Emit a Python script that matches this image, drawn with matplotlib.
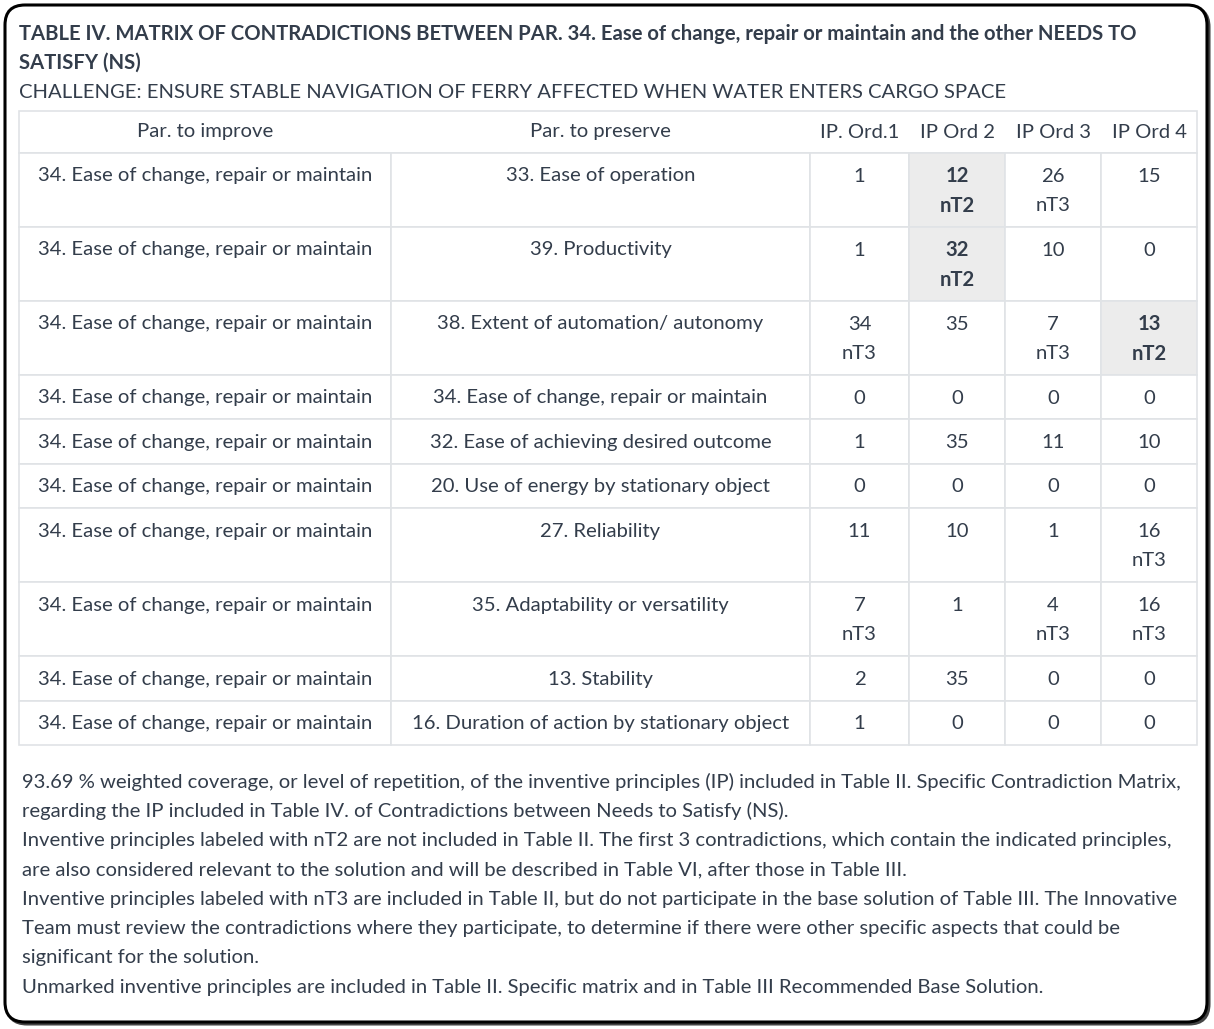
import matplotlib as mpl
mpl.use('Agg')
import matplotlib.pyplot as plt
from matplotlib.patches import FancyBboxPatch, Rectangle

# ========================================================================================

title_lines = [
    "TABLE IV. MATRIX OF CONTRADICTIONS BETWEEN PAR. 34. Ease of change, repair or maintain and the other NEEDS TO",
    "SATISFY (NS)",
]
challenge = "CHALLENGE: ENSURE STABLE NAVIGATION OF FERRY AFFECTED WHEN WATER ENTERS CARGO SPACE"

headers = ["Par. to improve", "Par. to preserve", "IP. Ord.1", "IP Ord 2", "IP Ord 3", "IP Ord 4"]

par_improve = ["34. Ease of change, repair or maintain"] * 10
par_preserve = [
    "33. Ease of operation",
    "39. Productivity",
    "38. Extent of automation/ autonomy",
    "34. Ease of change, repair or maintain",
    "32. Ease of achieving desired outcome",
    "20. Use of energy by stationary object",
    "27. Reliability",
    "35. Adaptability or versatility",
    "13. Stability",
    "16. Duration of action by stationary object",
]
ip_values = [
    [1, 12, 26, 15],
    [1, 32, 10, 0],
    [34, 35, 7, 13],
    [0, 0, 0, 0],
    [1, 35, 11, 10],
    [0, 0, 0, 0],
    [11, 10, 1, 16],
    [7, 1, 4, 16],
    [2, 35, 0, 0],
    [1, 0, 0, 0],
]
ip_marks = [
    ["", "nT2", "nT3", ""],
    ["", "nT2", "", ""],
    ["nT3", "", "nT3", "nT2"],
    ["", "", "", ""],
    ["", "", "", ""],
    ["", "", "", ""],
    ["", "", "", "nT3"],
    ["nT3", "", "nT3", "nT3"],
    ["", "", "", ""],
    ["", "", "", ""],
]

notes = [
    "93.69 % weighted coverage, or level of repetition, of the inventive principles (IP) included in Table II. Specific Contradiction Matrix,",
    "regarding the IP included in Table IV. of Contradictions between Needs to Satisfy (NS).",
    "Inventive principles labeled with nT2 are not included in Table II. The first 3 contradictions, which contain the indicated principles,",
    "are also considered relevant to the solution and will be described in Table VI, after those in Table III.",
    "Inventive principles labeled with nT3 are included in Table II, but do not participate in the base solution of Table III. The Innovative",
    "Team must review the contradictions where they participate, to determine if there were other specific aspects that could be",
    "significant for the solution.",
    "Unmarked inventive principles are included in Table II. Specific matrix and in Table III Recommended Base Solution.",
]

# ========================================================================================

txt_color = "#333d4b"
grid_color = "#e0e3e6"
hl_color = "#ececec"
fs = 14.6

plt.rcParams['font.family'] = ['Lato', 'DejaVu Sans']

W, H = 1214, 1029
fig = plt.figure(figsize=(W / 100, H / 100), dpi=100)
ax = fig.add_axes([0, 0, 1, 1])
ax.set_xlim(0, W)
ax.set_ylim(H, 0)
ax.axis('off')

# cadre arrondi + ombre
ax.add_patch(FancyBboxPatch((7, 7), W - 12, H - 12, boxstyle="round,pad=0,rounding_size=20",
                            facecolor="#888888", edgecolor="#444444", lw=2.2, zorder=0))
ax.add_patch(FancyBboxPatch((5, 5), W - 12, H - 12, boxstyle="round,pad=0,rounding_size=20",
                            facecolor="white", edgecolor="black", lw=2.2, zorder=1))

# titres
ax.text(19, 34, title_lines[0], fontsize=fs, fontweight='bold', color=txt_color, va='center', ha='left', zorder=5)
ax.text(19, 63, title_lines[1], fontsize=fs, fontweight='bold', color=txt_color, va='center', ha='left', zorder=5)
ax.text(19, 93, challenge, fontsize=fs, color=txt_color, va='center', ha='left', zorder=5)

# ========================================================================================

col_x = [19, 391, 810, 909, 1005, 1101, 1197]
line_h = 29.6
header_top, header_h = 111, 42
row_h1 = 44.4
off = 23

ax.add_patch(Rectangle((col_x[0], header_top), col_x[-1] - col_x[0], header_h,
                       facecolor='white', edgecolor=grid_color, lw=1.2, zorder=2))
for j, h in enumerate(headers):
    cx = (col_x[j] + col_x[j + 1]) / 2
    ax.text(cx, header_top + 21, h, fontsize=fs, color=txt_color, ha='center', va='center', zorder=5)

y = header_top + header_h
for i in range(len(par_preserve)):
    nlines = 2 if any(ip_marks[i]) else 1
    rh = row_h1 + (nlines - 1) * line_h
    for j in range(6):
        x0, x1 = col_x[j], col_x[j + 1]
        cx = (x0 + x1) / 2
        fc = 'white'
        bold = False
        if j >= 2 and ip_marks[i][j - 2] == "nT2":
            fc = hl_color
            bold = True
        ax.add_patch(Rectangle((x0, y), x1 - x0, rh, facecolor=fc, edgecolor=grid_color, lw=1.2, zorder=2))
        fw = 'bold' if bold else 'normal'
        if j == 0:
            ax.text(cx, y + off, par_improve[i], fontsize=fs, color=txt_color, ha='center', va='center', zorder=5)
        elif j == 1:
            ax.text(cx, y + off, par_preserve[i], fontsize=fs, color=txt_color, ha='center', va='center', zorder=5)
        else:
            ax.text(cx, y + off, str(ip_values[i][j - 2]), fontsize=fs, fontweight=fw, color=txt_color,
                    ha='center', va='center', zorder=5)
            if ip_marks[i][j - 2]:
                ax.text(cx, y + off + line_h, ip_marks[i][j - 2], fontsize=fs, fontweight=fw, color=txt_color,
                        ha='center', va='center', zorder=5)
    y += rh

# ========================================================================================

for k, line in enumerate(notes):
    ax.text(22, 782 + k * 29.3, line, fontsize=fs, color=txt_color, ha='left', va='center', zorder=5)

plt.savefig("out.png", dpi=100)
